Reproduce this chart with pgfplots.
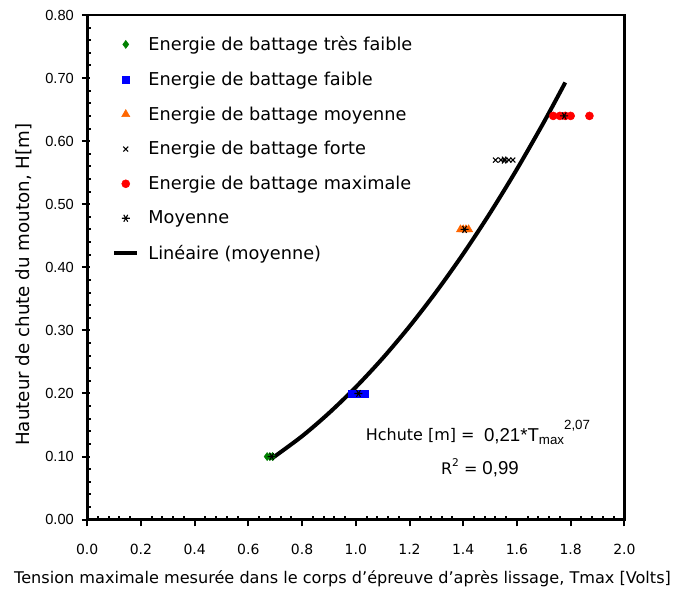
\documentclass[border=0pt]{standalone}
\usepackage{fontspec}
\setmainfont{DejaVu Sans}
\newfontfamily\arial{Liberation Sans}
\usepackage{pgfplots}
\pgfplotsset{compat=1.18}
\definecolor{dgreen}{RGB}{0,128,0}
\definecolor{orng}{RGB}{255,102,0}
\begin{document}
\begin{tikzpicture}
\begin{axis}[name=ax, scale only axis, width=403.5pt, height=379.1pt,
  xmin=0, xmax=2, ymin=0, ymax=0.8,
  xtick={0,0.2,0.4,0.6,0.8,1.0,1.2,1.4,1.6,1.8,2.0},
  ytick={0,0.1,0.2,0.3,0.4,0.5,0.6,0.7,0.8},
  minor x tick num=4, minor y tick num=4,
  tick pos=left, tick align=inside,
  major tick length=6pt, minor tick length=3pt,
  every major y tick/.append style={xshift=-4pt},
  every major x tick/.append style={yshift=-5pt},
  tick style={black, line width=1.5pt},
  axis line style={line width=2pt},
  /pgf/number format/assume math mode=true,
  xticklabel style={yshift=-15pt, font=\fontsize{10.5}{12}\selectfont, /pgf/number format/.cd, fixed, fixed zerofill, precision=1},
  yticklabel style={xshift=-6.5pt, font=\arial\fontsize{11}{13}\selectfont, /pgf/number format/.cd, fixed, fixed zerofill, precision=2},
  legend style={at={(axis cs:0.078,0.775)}, anchor=north west, draw=none, fill=none,
    font=\fontsize{13.3}{15}\selectfont, row sep=10.5pt, cells={anchor=west},
    /tikz/every odd column/.append style={column sep=5pt}},
  clip=false,
]
\addplot[black, line width=3pt, smooth, forget plot] coordinates {(0.685,0.0962) (0.8,0.1323) (0.9,0.1689) (1.0,0.21) (1.1,0.2558) (1.2,0.3063) (1.3,0.3615) (1.4,0.4214) (1.5,0.4861) (1.6,0.5556) (1.7,0.6299) (1.78,0.693)};
\addplot[only marks, mark=diamond*, mark size=3pt, color=dgreen] coordinates {(0.67,0.10) (0.68,0.10) (0.69,0.10)};
\addlegendentry{Energie de battage très faible}
\addplot[only marks, mark=square*, mark size=2.6pt, color=blue] coordinates {(0.985,0.20) (1.00,0.20) (1.01,0.20) (1.02,0.20) (1.035,0.20)};
\addlegendentry{Energie de battage faible}
\addplot[only marks, mark=triangle*, mark size=3.5pt, color=orng] coordinates {(1.39,0.46) (1.40,0.46) (1.41,0.46) (1.42,0.46)};
\addlegendentry{Energie de battage moyenne}
\addplot[only marks, mark=x, mark size=2.6pt, color=black, line width=0.8pt] coordinates {(1.52,0.57) (1.54,0.57) (1.555,0.57) (1.57,0.57) (1.585,0.57)};
\addlegendentry{Energie de battage forte}
\addplot[only marks, mark=*, mark size=3pt, color=red] coordinates {(1.735,0.64) (1.76,0.64) (1.78,0.64) (1.80,0.64) (1.87,0.64)};
\addlegendentry{Energie de battage maximale}
\addplot[only marks, mark=asterisk, mark size=3pt, color=black, line width=0.8pt, mark options={rotate=90}] coordinates {(0.687,0.10) (1.01,0.20) (1.405,0.46) (1.552,0.57) (1.776,0.64)};
\addlegendentry{Moyenne}
\addlegendimage{black, line width=3pt}
\addlegendentry{Linéaire (moyenne)}
\node[anchor=west, font=\fontsize{12}{14}\selectfont] at (axis cs:1.02,0.133) {Hchute [m] =};
\node[anchor=west, font=\arial\fontsize{14}{16}\selectfont] at (axis cs:1.46,0.138) {0,21*T\raisebox{-0.35ex}{\fontsize{10}{10}\selectfont max}\raisebox{1.2ex}{\fontsize{10}{10}\selectfont 2,07}};
\node[anchor=west, font=\fontsize{12}{14}\selectfont] at (axis cs:1.30,0.082) {R\raisebox{0.9ex}{\fontsize{8}{8}\selectfont 2} = \arial\fontsize{14}{16}\selectfont 0,99};
\end{axis}
\node[font=\fontsize{12.1}{14}\selectfont] at ([xshift=191.8pt,yshift=-44.6pt]ax.south west) {Tension maximale mesurée dans le corps d'épreuve d'après lissage, Tmax [Volts]};
\node[rotate=90, font=\fontsize{13.7}{15}\selectfont] at ([xshift=-48pt,yshift=176.5pt]ax.south west) {Hauteur de chute du mouton, H[m]};
\path ([xshift=-65.5pt,yshift=-58.9pt]ax.south west) rectangle ([xshift=46.3pt,yshift=11.25pt]ax.north east);
\end{tikzpicture}
\end{document}
